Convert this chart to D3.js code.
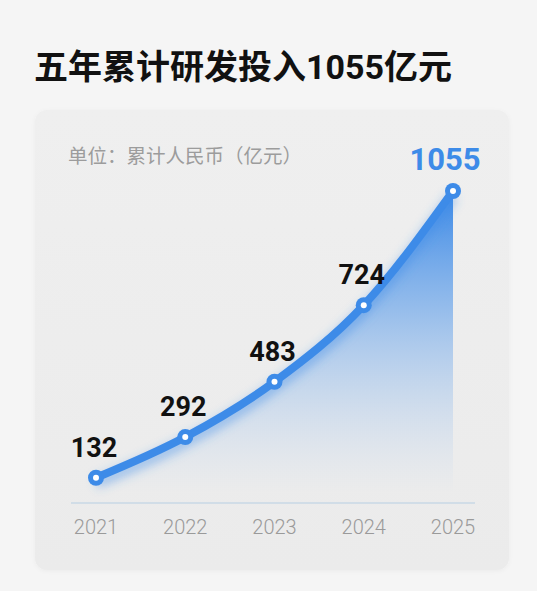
<!DOCTYPE html>
<html>
<head>
<meta charset="utf-8">
<script src="https://cdn.jsdelivr.net/npm/d3@7"></script>
<style>
  html, body { margin: 0; padding: 0; background: #f5f5f5; }
  svg { display: block; font-family: Roboto, "Noto Sans CJK SC", sans-serif; }
</style>
</head>
<body>
<svg></svg>
<script>
const years = ["2021", "2022", "2023", "2024", "2025"]
const totals = [132, 292, 483, 724, 1055]
const title = "五年累计研发投入1055亿元"
const unitLabel = "单位：累计人民币（亿元）"

const W = 537, H = 591
const svg = d3.select("svg").attr("width", W).attr("height", H)
const defs = svg.append("defs")

// card shadow + line glow
const sh = defs.append("filter").attr("id", "cardShadow").attr("x", "-10%").attr("y", "-10%").attr("width", "120%").attr("height", "120%")
sh.append("feDropShadow").attr("dx", 0).attr("dy", 1).attr("stdDeviation", 2).attr("flood-color", "#000").attr("flood-opacity", 0.04)
const glow = defs.append("filter").attr("id", "glow").attr("x", "-20%").attr("y", "-20%").attr("width", "140%").attr("height", "140%")
glow.append("feGaussianBlur").attr("stdDeviation", 5)

const card = {x: 35, y: 110, w: 474, h: 460}
const cardGrad = defs.append("linearGradient").attr("id", "cardGrad").attr("x1", 0).attr("y1", 0).attr("x2", 0).attr("y2", 1)
cardGrad.append("stop").attr("offset", "0%").attr("stop-color", "#efefef")
cardGrad.append("stop").attr("offset", "100%").attr("stop-color", "#ebebeb")

svg.append("text").text(title).attr("x", 34).attr("y", 79)
  .style("font-size", "34px").style("font-weight", 700).style("fill", "#111")

svg.append("rect").attr("x", card.x).attr("y", card.y).attr("width", card.w).attr("height", card.h)
  .attr("rx", 12).style("fill", "url(#cardGrad)").attr("filter", "url(#cardShadow)")

svg.append("text").text(unitLabel).attr("x", 68).attr("y", 163)
  .style("font-size", "19.5px").style("fill", "#9c9c9c")

const x = d3.scalePoint().domain(years).range([96, 453])
const y = d3.scalePow().exponent(1.21).domain([0, 1055]).range([503, 191])
const baseY = 503

const data = years.map((yr, i) => ({year: yr, value: totals[i]}))

const areaGrad = defs.append("linearGradient").attr("id", "areaGrad").attr("gradientUnits", "userSpaceOnUse")
  .attr("x1", 0).attr("y1", y(1055)).attr("x2", 0).attr("y2", baseY - 10)
areaGrad.append("stop").attr("offset", "0%").attr("stop-color", "#3a88e6").attr("stop-opacity", 1)
areaGrad.append("stop").attr("offset", "40%").attr("stop-color", "#5e9eea").attr("stop-opacity", 0.6)
areaGrad.append("stop").attr("offset", "100%").attr("stop-color", "#a9c8ee").attr("stop-opacity", 0)

const curve = d3.curveMonotoneX
const area = d3.area().x(d => x(d.year)).y0(baseY - 12).y1(d => y(d.value)).curve(curve)
const line = d3.line().x(d => x(d.year)).y(d => y(d.value)).curve(curve)

svg.append("path").datum(data).attr("d", area).style("fill", "url(#areaGrad)")

// x axis baseline and year labels
svg.append("line").attr("x1", 71).attr("x2", 475).attr("y1", baseY).attr("y2", baseY)
  .style("stroke", "#c9d8e6").style("stroke-width", 1.5)
svg.append("g").selectAll("text").data(years).join("text")
  .text(d => d).attr("x", d => x(d)).attr("y", 534)
  .style("text-anchor", "middle").style("font-size", "20px").style("font-weight", 300).style("fill", "#9a9a9a")

svg.append("path").datum(data).attr("d", line).attr("transform", "translate(0,5)")
  .style("fill", "none").style("stroke", "#3d8de8").style("stroke-opacity", 0.4).style("stroke-width", 12)
  .attr("filter", "url(#glow)")
svg.append("path").datum(data).attr("d", line)
  .style("fill", "none").style("stroke", "#3d8be8").style("stroke-width", 8).style("stroke-linecap", "round")

const pts = svg.append("g").selectAll("g").data(data).join("g")
  .attr("transform", d => `translate(${x(d.year)},${y(d.value)})`)
pts.append("circle").attr("r", 8).style("fill", "#3d8be8")
pts.append("circle").attr("r", 3).style("fill", "#fff")

const last = data[data.length - 1]
svg.append("g").selectAll("text").data(data.slice(0, -1)).join("text")
  .text(d => d.value).attr("x", d => x(d.year) - 2).attr("y", d => y(d.value) - 21)
  .style("text-anchor", "middle").style("font-size", "27px").style("font-weight", 700).style("fill", "#111")
svg.append("text").text(last.value).attr("x", x(last.year) - 8).attr("y", y(last.value) - 21)
  .style("text-anchor", "middle").style("font-size", "31px").style("font-weight", 700).style("fill", "#3d8be8")
</script>
</body>
</html>
